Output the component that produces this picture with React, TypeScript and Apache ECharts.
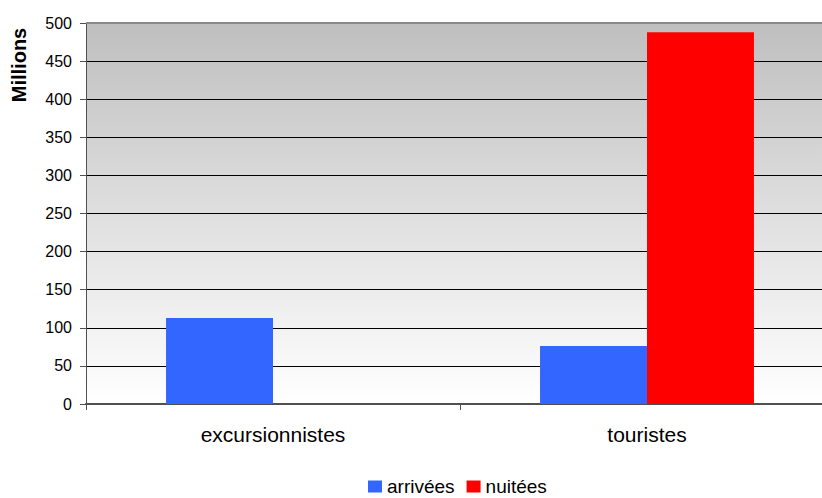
import React, { useEffect, useRef } from "react";
import * as echarts from "echarts";

const categories = ["excursionnistes", "touristes"];
const arrivees = [113, 76];
const nuitees = [null, 488];
const yTicks = { min: 0, max: 500, interval: 50 };
const yName = "Millions";

export default function App() {
  const ref = useRef<HTMLDivElement>(null);
  useEffect(() => {
    if (!ref.current) return;
    const chart = echarts.init(ref.current, undefined, { renderer: "svg" });
    const font = "'Liberation Sans', Arial, sans-serif";
    chart.setOption({
      animation: false,
      backgroundColor: "#ffffff",
      grid: {
        left: 86,
        top: 23,
        bottom: 94,
        right: 0,
        show: true,
        borderWidth: 0,
        backgroundColor: new echarts.graphic.LinearGradient(0, 0, 0, 1, [
          { offset: 0, color: "#bfbfbf" },
          { offset: 1, color: "#ffffff" },
        ]),
      },
      graphic: [
        {
          type: "text",
          x: 18.5,
          y: 65,
          rotation: Math.PI / 2,
          style: {
            text: yName,
            fontFamily: font,
            fontSize: 20,
            fontWeight: "bold",
            fill: "#000",
            textAlign: "center",
            textVerticalAlign: "middle",
          },
        },
      ],
      legend: {
        left: 368,
        top: 477,
        padding: 0,
        itemWidth: 14,
        itemHeight: 12,
        itemGap: 12,
        icon: "rect",
        textStyle: { fontFamily: font, fontSize: 19, color: "#000" },
        data: ["arrivées", "nuitées"],
      },
      xAxis: {
        type: "category",
        data: categories,
        axisLine: { lineStyle: { color: "#505050", width: 2 } },
        axisTick: { show: true, length: 6, lineStyle: { color: "#505050", width: 1 } },
        axisLabel: { fontFamily: font, fontSize: 21, color: "#000", margin: 20 },
      },
      yAxis: {
        type: "value",
        min: yTicks.min,
        max: yTicks.max,
        interval: yTicks.interval,
        axisLine: { show: true, lineStyle: { color: "#505050", width: 1 } },
        axisTick: { show: true, length: 6, lineStyle: { color: "#505050" } },
        axisLabel: { fontFamily: font, fontSize: 16, color: "#000", margin: 14 },
        splitLine: { show: true, lineStyle: { color: "#000", width: 1 } },
      },
      series: [
        {
          name: "arrivées",
          type: "bar",
          data: arrivees,
          itemStyle: { color: "#3366ff" },
          barGap: "0%",
          barCategoryGap: "42.8%",
          markLine: {
            silent: true,
            symbol: "none",
            label: { show: false },
            lineStyle: { color: "#888888", width: 2, type: "solid" },
            data: [{ yAxis: 500 }],
          },
        },
        {
          name: "nuitées",
          type: "bar",
          data: nuitees,
          itemStyle: { color: "#ff0000" },
          barGap: "0%",
          barCategoryGap: "42.8%",
        },
      ],
    });
    return () => chart.dispose();
  }, []);
  return (
    <div style={{ width: 822, height: 498, position: "absolute", left: 0, top: 0, overflow: "hidden" }}>
      <div ref={ref} style={{ width: 834, height: 498 }} />
    </div>
  );
}
